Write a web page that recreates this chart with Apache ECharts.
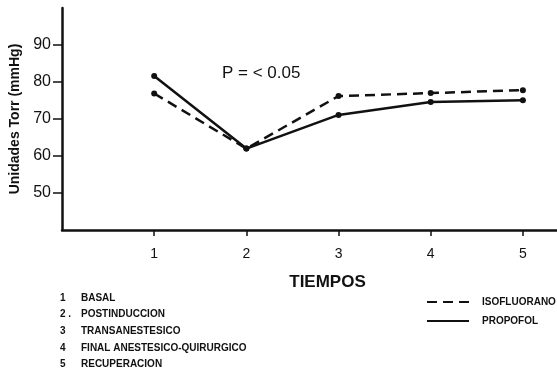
<!DOCTYPE html>
<html>
<head>
<meta charset="utf-8">
<script src="https://cdn.jsdelivr.net/npm/echarts@6/dist/echarts.min.js"></script>
<style>
  html, body { margin: 0; padding: 0; background: #fff; }
  #chart { width: 557px; height: 370px; }
</style>
</head>
<body>
<div id="chart"></div>
<script>
// tiempos on the x axis
const tiempos = [1, 2, 3, 4, 5];
const tiempoNames = ['BASAL', 'POSTINDUCCION', 'TRANSANESTESICO', 'FINAL ANESTESICO-QUIRURGICO', 'RECUPERACION'];
const tiempoNums = ['1', '2 .', '3', '4', '5'];

// presion (mmHg)
const isofluorano = [76.9, 62.0, 76.2, 77.0, 77.8];
const propofol = [81.6, 62.0, 71.1, 74.6, 75.1];

const yTicks = [50, 60, 70, 80, 90];

const FONT = '"Liberation Sans", Arial, sans-serif';

const chart = echarts.init(document.getElementById('chart'));

function pairs(vals) {
  return tiempos.map((t, i) => [t, vals[i]]);
}

// numbered list of the time points, bottom left
const listItems = [];
tiempoNames.forEach((name, i) => {
  listItems.push({
    type: 'text', left: 60, top: 293 + i * 16.6,
    style: { text: tiempoNums[i], font: 'bold 10px ' + FONT, fill: '#111' },
  });
  listItems.push({
    type: 'text', left: 81, top: 293 + i * 16.6,
    style: { text: name, font: 'bold 10px ' + FONT, fill: '#111' },
  });
});

const option = {
  animation: false,
  backgroundColor: '#fff',
  grid: { left: 60, right: 0, top: 8, bottom: 140 },
  xAxis: {
    type: 'value',
    min: 0,
    max: 5.37,
    name: 'TIEMPOS',
    nameLocation: 'middle',
    nameGap: 44,
    nameTextStyle: { fontFamily: FONT, fontWeight: 'bold', fontSize: 17, color: '#111', padding: [0, 0, 0, 36] },
    axisLine: { lineStyle: { color: '#111', width: 2.5 } },
    axisTick: { customValues: tiempos, length: 6, lineStyle: { color: '#111', width: 1.5 } },
    axisLabel: { customValues: tiempos, margin: 17, fontFamily: FONT, fontSize: 14, color: '#111' },
    splitLine: { show: false },
  },
  yAxis: {
    type: 'value',
    min: 40,
    max: 100,
    name: 'Unidades Torr (mmHg)',
    nameLocation: 'middle',
    nameGap: 40,
    nameTextStyle: { fontFamily: FONT, fontWeight: 'bold', fontSize: 14, color: '#111' },
    axisLine: { show: true, lineStyle: { color: '#111', width: 2.5 } },
    axisTick: { show: true, customValues: yTicks, length: 9, lineStyle: { color: '#111', width: 1.5 } },
    axisLabel: { customValues: yTicks, margin: 11, fontFamily: FONT, fontSize: 16, color: '#111' },
    splitLine: { show: false },
  },
  legend: {
    orient: 'vertical',
    left: 421,
    top: 292,
    itemWidth: 42,
    itemHeight: 10,
    itemGap: 9,
    itemStyle: { opacity: 0 },
    textStyle: { fontFamily: FONT, fontWeight: 'bold', fontSize: 10, color: '#111', padding: [0, 0, 0, 8] },
    data: ['ISOFLUORANO', 'PROPOFOL'],
  },
  graphic: [
    {
      type: 'text', left: 222, top: 65,
      style: { text: 'P = < 0.05', font: '17px ' + FONT, fill: '#111' },
    },
  ].concat(listItems),
  series: [
    {
      name: 'ISOFLUORANO',
      type: 'line',
      data: pairs(isofluorano),
      symbol: 'circle',
      symbolSize: 6,
      itemStyle: { color: '#111' },
      lineStyle: { color: '#111', width: 2.5, type: [10, 6] },
    },
    {
      name: 'PROPOFOL',
      type: 'line',
      data: pairs(propofol),
      symbol: 'circle',
      symbolSize: 6,
      itemStyle: { color: '#111' },
      lineStyle: { color: '#111', width: 2.5 },
    },
  ],
};

chart.setOption(option);
</script>
</body>
</html>
